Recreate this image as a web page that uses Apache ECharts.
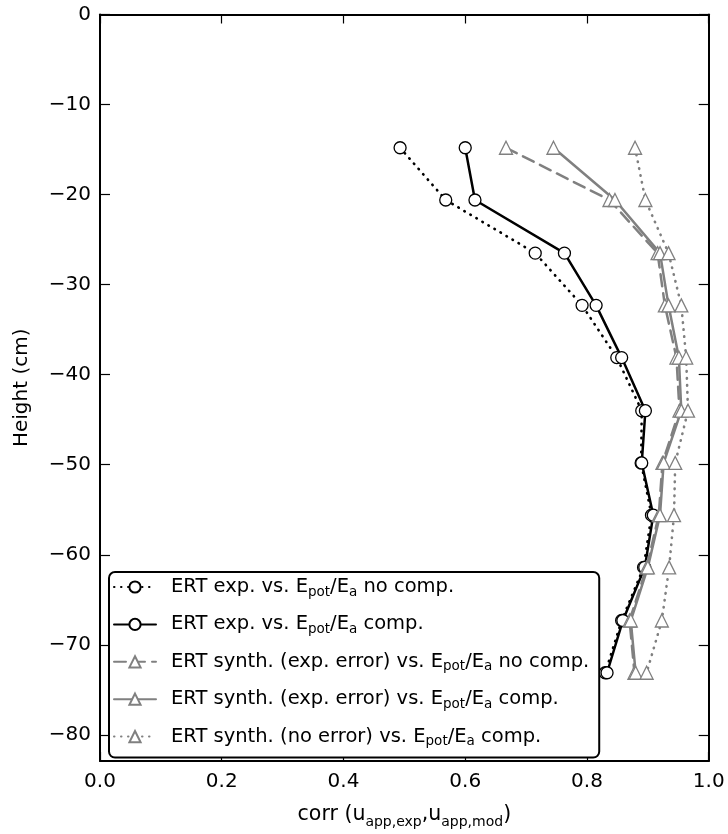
<!DOCTYPE html>
<html>
<head>
<meta charset="utf-8">
<script src="https://cdn.jsdelivr.net/npm/echarts@6/dist/echarts.min.js"></script>
<style>
  html, body { margin: 0; padding: 0; background: #fff; }
  #chart { width: 728px; height: 834px; }
</style>
</head>
<body>
<div id="chart"></div>
<script>
// Depth of each measurement level (cm)
const heights = [-14.8, -20.6, -26.5, -32.3, -38.1, -44.0, -49.8, -55.6, -61.4, -67.3, -73.1];

// Correlation of apparent potentials, one array per comparison
const ertExpNoComp    = [0.493, 0.568, 0.715, 0.792, 0.849, 0.890, 0.889, 0.906, 0.893, 0.857, 0.830];
const ertExpComp      = [0.600, 0.616, 0.763, 0.815, 0.857, 0.896, 0.890, 0.909, 0.895, 0.859, 0.833];
const synthErrNoComp  = [0.667, 0.837, 0.916, 0.928, 0.947, 0.952, 0.924, 0.918, 0.898, 0.870, 0.878];
const synthErrComp    = [0.745, 0.846, 0.920, 0.934, 0.951, 0.955, 0.926, 0.920, 0.900, 0.872, 0.880];
const synthNoErrComp  = [0.879, 0.896, 0.934, 0.955, 0.963, 0.966, 0.945, 0.943, 0.935, 0.923, 0.898];

// Legend labels (rich text: {s|...} is a subscript)
const seriesLabels = [
  'ERT exp. vs. E{s|pot}/E{s|a} no comp.',
  'ERT exp. vs. E{s|pot}/E{s|a} comp.',
  'ERT synth. (exp. error) vs. E{s|pot}/E{s|a} no comp.',
  'ERT synth. (exp. error) vs. E{s|pot}/E{s|a} comp.',
  'ERT synth. (no error) vs. E{s|pot}/E{s|a} comp.'
];

// Axis ticks
const xTicks = [0.0, 0.2, 0.4, 0.6, 0.8, 1.0];
const yTicks = [0, -10, -20, -30, -40, -50, -60, -70, -80];

const FONT = 'DejaVu Sans';
const GRAY = '#808080';

function pairs(xs) {
  return xs.map((x, i) => [x, heights[i]]);
}

const seriesNames = ['s0', 's1', 's2', 's3', 's4'];
const labelByName = {};
seriesNames.forEach((n, i) => { labelByName[n] = seriesLabels[i]; });

function lineSeries(name, values, color, lineType, lineWidth, symbol) {
  return {
    name: name,
    type: 'line',
    data: pairs(values),
    symbol: symbol,
    symbolSize: symbol === 'circle' ? 12 : 13,
    showSymbol: true,
    lineStyle: { color: color, width: lineWidth, type: lineType, cap: 'round' },
    itemStyle: { color: '#fff', borderColor: color, borderWidth: 1.3, opacity: 1 },
    emphasis: { disabled: true },
    animation: false
  };
}

const chart = echarts.init(document.getElementById('chart'), null, { renderer: 'canvas' });

const axisLineStyle = { color: '#000', width: 2 };
const tickStyle = { color: '#000', width: 1.2 };

chart.setOption({
  animation: false,
  backgroundColor: '#fff',
  textStyle: { fontFamily: FONT },
  grid: { left: 100, top: 14.5, width: 608.7, height: 751.5, containLabel: false },
  xAxis: [
    {
      type: 'value', position: 'bottom', min: 0, max: 1, interval: 0.2,
      axisLine: { show: true, onZero: false, lineStyle: axisLineStyle },
      axisTick: { show: true, inside: true, length: 9, lineStyle: tickStyle },
      axisLabel: {
        show: true, margin: 11, fontSize: 20, color: '#000', fontFamily: FONT,
        formatter: v => v.toFixed(1)
      },
      splitLine: { show: false },
      name: 'corr (u{s|app,exp},u{s|app,mod})',
      nameLocation: 'middle',
      nameGap: 40,
      nameTextStyle: {
        fontSize: 20.5, color: '#000', fontFamily: FONT, lineHeight: 28,
        rich: { s: { fontSize: 14, lineHeight: 14, verticalAlign: 'bottom', color: '#000', fontFamily: FONT } }
      }
    },
    {
      type: 'value', position: 'top', min: 0, max: 1, interval: 0.2,
      axisLine: { show: true, onZero: false, lineStyle: axisLineStyle },
      axisTick: { show: true, inside: true, length: 9, lineStyle: tickStyle },
      axisLabel: { show: false },
      splitLine: { show: false }
    }
  ],
  yAxis: [
    {
      type: 'value', position: 'left', min: -82.9, max: 0,
      axisLine: { show: true, onZero: false, lineStyle: axisLineStyle },
      axisTick: { show: true, inside: true, length: 10, lineStyle: tickStyle, customValues: yTicks },
      axisLabel: {
        show: true, margin: 9, fontSize: 20, color: '#000', fontFamily: FONT,
        customValues: yTicks,
        formatter: v => (v < 0 ? '\u2212' + Math.abs(v) : String(v))
      },
      splitLine: { show: false },
      name: 'Height (cm)',
      nameLocation: 'middle',
      nameRotate: 90,
      nameGap: 68,
      nameTextStyle: { fontSize: 20, color: '#000', fontFamily: FONT }
    },
    {
      type: 'value', position: 'right', min: -82.9, max: 0,
      axisLine: { show: true, onZero: false, lineStyle: axisLineStyle },
      axisTick: { show: true, inside: true, length: 10, lineStyle: tickStyle, customValues: yTicks },
      axisLabel: { show: false },
      splitLine: { show: false }
    }
  ],
  legend: {
    orient: 'vertical',
    left: 109,
    top: 572,
    padding: [3, 10, 9, 4],
    itemWidth: 42,
    itemHeight: 14,
    itemGap: 13.4,
    backgroundColor: '#fff',
    borderColor: '#000',
    borderWidth: 2,
    borderRadius: 6,
    data: seriesNames,
    formatter: name => labelByName[name],
    textStyle: {
      fontSize: 19.5, color: '#000', fontFamily: FONT, lineHeight: 24,
      padding: [0, 0, 0, 10],
      rich: { s: { fontSize: 13.5, lineHeight: 12, verticalAlign: 'bottom', color: '#000', fontFamily: FONT } }
    }
  },
  series: [
    lineSeries('s0', ertExpNoComp, '#000', [0.5, 6.5], 2.6, 'circle'),
    lineSeries('s1', ertExpComp, '#000', 'solid', 2.5, 'circle'),
    lineSeries('s2', synthErrNoComp, GRAY, [12, 7], 2.5, 'triangle'),
    lineSeries('s3', synthErrComp, GRAY, 'solid', 2.5, 'triangle'),
    lineSeries('s4', synthNoErrComp, GRAY, [0.5, 6.5], 2.6, 'triangle')
  ]
});
</script>
</body>
</html>
